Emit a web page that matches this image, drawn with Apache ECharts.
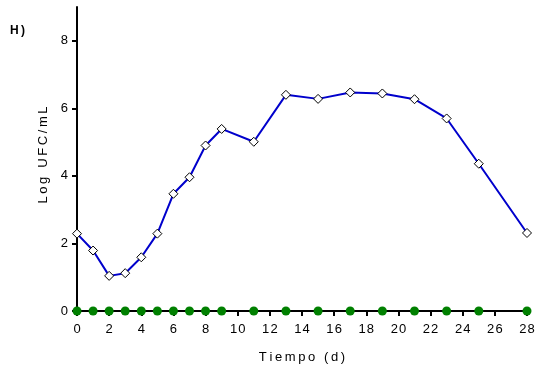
<!DOCTYPE html>
<html>
<head>
<meta charset="utf-8">
<script src="https://cdn.jsdelivr.net/npm/echarts@6/dist/echarts.min.js"></script>
<style>
  html, body { margin: 0; padding: 0; background: #fff; }
  #chart { width: 545px; height: 370px; }
</style>
</head>
<body>
<div id="chart"></div>
<script>
// Sampling days (d)
const days = [0, 1, 2, 3, 4, 5, 6, 7, 8, 9, 11, 13, 15, 17, 19, 21, 23, 25, 28];
// Log UFC/mL, counted series
const logCounts = [2.29, 1.79, 1.04, 1.12, 1.59, 2.29, 3.47, 3.96, 4.90, 5.39, 5.01, 6.40, 6.28, 6.47, 6.44, 6.27, 5.70, 4.36, 2.31];
// Log UFC/mL, not detected series
const logZero = [0, 0, 0, 0, 0, 0, 0, 0, 0, 0, 0, 0, 0, 0, 0, 0, 0, 0, 0];
// Tick values
const xTicks = [0, 2, 4, 6, 8, 10, 12, 14, 16, 18, 20, 22, 24, 26, 28];
const yTicks = [0, 2, 4, 6, 8];

const font = 'Liberation Sans, Arial, sans-serif';
// widen letter spacing with thin spaces
const spaced = s => String(s).split('').join('\u2009');
const spacedHair = s => String(s).split('').join('\u200A');

const chart = echarts.init(document.getElementById('chart'), null, { renderer: 'canvas' });
chart.setOption({
  animation: false,
  backgroundColor: '#fff',
  grid: { left: 77, right: 18, top: 7, bottom: 59, containLabel: false },
  graphic: [{
    type: 'text', left: 10, top: 25,
    style: { text: 'H\u2009)', font: 'bold 12px ' + font, fill: '#000' }
  }],
  xAxis: {
    type: 'value', min: 0, max: 28, interval: 2,
    name: spaced('Tiempo (d)'), nameLocation: 'middle', nameGap: 40,
    nameTextStyle: { fontFamily: font, fontSize: 13, color: '#000' },
    axisLine: { lineStyle: { color: '#000', width: 2 } },
    axisTick: { show: true, length: 5, lineStyle: { color: '#000', width: 2 }, customValues: xTicks },
    axisLabel: { fontFamily: font, fontSize: 13, color: '#000', margin: 12, customValues: xTicks, formatter: v => spacedHair(v) },
    splitLine: { show: false }
  },
  yAxis: {
    type: 'value', min: 0, max: 9,
    name: spaced('Log UFC/mL'), nameLocation: 'middle', nameGap: 26, nameRotate: 90,
    nameTextStyle: { fontFamily: font, fontSize: 13, color: '#000', padding: [0, 0, 0, 8] },
    axisLine: { show: true, lineStyle: { color: '#000', width: 2 } },
    axisTick: { show: true, length: 5, lineStyle: { color: '#000', width: 2 }, customValues: yTicks },
    axisLabel: { fontFamily: font, fontSize: 13, color: '#000', margin: 9, customValues: yTicks },
    splitLine: { show: false }
  },
  series: [
    {
      type: 'line', z: 3,
      data: days.map((d, i) => [d, logCounts[i]]),
      lineStyle: { color: '#0000CC', width: 2 },
      symbol: 'diamond', symbolSize: 9, showAllSymbol: true,
      itemStyle: { color: '#fff', borderColor: '#000', borderWidth: 1 }
    },
    {
      type: 'line', z: 4,
      data: days.map((d, i) => [d, logZero[i]]),
      lineStyle: { color: '#000', width: 2 },
      symbol: 'circle', symbolSize: 9, showAllSymbol: true,
      itemStyle: { color: '#008000', borderWidth: 0 }
    }
  ]
});
</script>
</body>
</html>
